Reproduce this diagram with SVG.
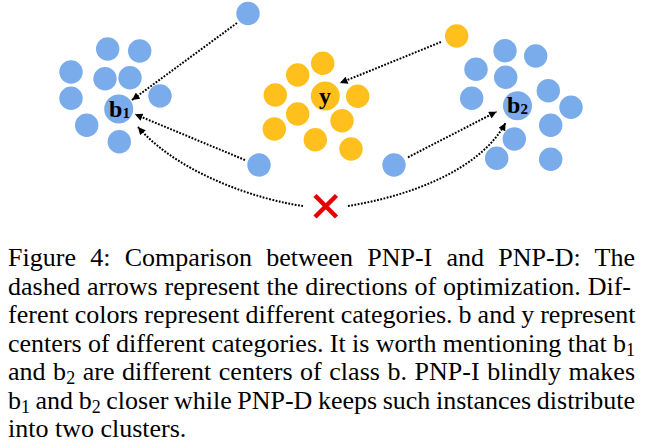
<svg xmlns="http://www.w3.org/2000/svg" width="660" height="445" viewBox="0 0 660 445">
<defs>
<style>
.bl{fill:#7aabeb}
.yl{fill:#ffc01e}
.lbl{font-family:"Liberation Serif","Times New Roman",serif;font-weight:bold;font-size:24px;fill:#000}
.sub{font-size:15px}
.con{fill:none;stroke:#000;stroke-width:2;stroke-dasharray:1.8 1.5;marker-end:url(#ah)}
.cap{font-family:"Liberation Serif","Times New Roman",serif;font-size:26px;fill:#000}
.cs{font-size:18px}
</style>
<marker id="ah" viewBox="0 0 8 8" refX="8" refY="4" markerWidth="8" markerHeight="7.5" markerUnits="userSpaceOnUse" orient="auto">
<path d="M0,0 L8,4 L0,8 z" fill="#000"/>
</marker>
</defs>
<rect width="660" height="445" fill="#fff"/>

<g id="cluster-b1">
<circle class="bl" cx="107.7" cy="49" r="11.7"/>
<circle class="bl" cx="139.7" cy="51" r="11.7"/>
<circle class="bl" cx="71" cy="72" r="11.7"/>
<circle class="bl" cx="105" cy="78.7" r="11.7"/>
<circle class="bl" cx="130" cy="77.7" r="11.7"/>
<circle class="bl" cx="71" cy="98.3" r="11.7"/>
<circle class="bl" cx="160" cy="96" r="11.7"/>
<circle class="bl" cx="86.7" cy="125.3" r="11.7"/>
<circle class="bl" cx="119.3" cy="141.7" r="11.7"/>
</g>
<g id="b1">
<circle class="bl" cx="118.7" cy="109" r="14.5"/>
<text class="lbl" x="119.5" y="117" text-anchor="middle">b<tspan class="sub" dy="1">1</tspan></text>
</g>

<g id="cluster-y">
<circle class="yl" cx="322.7" cy="63.3" r="11.7"/>
<circle class="yl" cx="297.7" cy="75" r="11.7"/>
<circle class="yl" cx="275.3" cy="95" r="11.7"/>
<circle class="yl" cx="357.7" cy="96.3" r="11.7"/>
<circle class="yl" cx="297.7" cy="114" r="11.7"/>
<circle class="yl" cx="342" cy="120.7" r="11.7"/>
<circle class="yl" cx="274.3" cy="129" r="11.7"/>
<circle class="yl" cx="315.3" cy="139.7" r="11.7"/>
<circle class="yl" cx="351" cy="149" r="11.7"/>
</g>
<g id="y">
<circle class="yl" cx="325.3" cy="96" r="14.5"/>
<text class="lbl" x="325" y="103.5" text-anchor="middle">y</text>
</g>

<g id="cluster-b2">
<circle class="bl" cx="505" cy="50.7" r="11.7"/>
<circle class="bl" cx="535.7" cy="56" r="11.7"/>
<circle class="bl" cx="476" cy="69.3" r="11.7"/>
<circle class="bl" cx="505.7" cy="77.3" r="11.7"/>
<circle class="bl" cx="471.7" cy="98.3" r="11.7"/>
<circle class="bl" cx="548.3" cy="90.7" r="11.7"/>
<circle class="bl" cx="571" cy="107.3" r="11.7"/>
<circle class="bl" cx="550.7" cy="125.3" r="11.7"/>
<circle class="bl" cx="514.3" cy="139" r="11.7"/>
<circle class="bl" cx="496.7" cy="158.3" r="11.7"/>
<circle class="bl" cx="550.7" cy="159.3" r="11.7"/>
</g>
<g id="b2">
<circle class="bl" cx="517.5" cy="105.8" r="14.5"/>
<text class="lbl" x="517.5" y="113.3" text-anchor="middle">b<tspan class="sub" dy="1">2</tspan></text>
</g>

<g id="blue-top"><circle class="bl" cx="248" cy="13.5" r="11.7"/></g>
<g id="blue-left"><circle class="bl" cx="259" cy="165" r="11.7"/></g>
<g id="blue-right"><circle class="bl" cx="394" cy="165" r="11.7"/></g>
<g id="yellow-top"><circle class="yl" cx="456.7" cy="36" r="11.7"/></g>
<g id="cross">
<path d="M315,195.5 L336.5,217 M336.5,195.5 L315,217" stroke="#e60000" stroke-width="4.5" fill="none"/>
</g>

<g id="connectors">
<path class="con" d="M237,23 L132,100"/>
<path class="con" d="M245,160 L135,114.3"/>
<path class="con" d="M303,206 C260,200 180,175 138,127"/>
<path class="con" d="M441,42 L340,83"/>
<path class="con" d="M408,157.3 L496.5,111.7"/>
<path class="con" d="M348,206 C410,196 480,170 505.5,123"/>
</g>

<g id="caption" class="cap">
<text x="8" y="266" word-spacing="7.7" textLength="627">Figure 4: Comparison between PNP-I and PNP-D: The</text>
<text x="8" y="294.5" word-spacing="0.3" textLength="623">dashed arrows represent the directions of optimization. Dif-</text>
<text x="8" y="323" word-spacing="-0.5" textLength="627.5">ferent colors represent different categories. b and y represent</text>
<text x="8" y="351.5" word-spacing="-0.2" textLength="627">centers of different categories. It is worth mentioning that b<tspan class="cs" dy="4">1</tspan></text>
<text x="8" y="380" word-spacing="1" textLength="627">and b<tspan class="cs" dy="4">2</tspan><tspan dy="-4"> are different centers of class b. PNP-I blindly makes</tspan></text>
<text x="8" y="408.5" word-spacing="-0.9" textLength="627">b<tspan class="cs" dy="4">1</tspan><tspan dy="-4"> and b</tspan><tspan class="cs" dy="4">2</tspan><tspan dy="-4"> closer while PNP-D keeps such instances distribute</tspan></text>
<text x="8" y="437">into two clusters.</text>
</g>
</svg>
